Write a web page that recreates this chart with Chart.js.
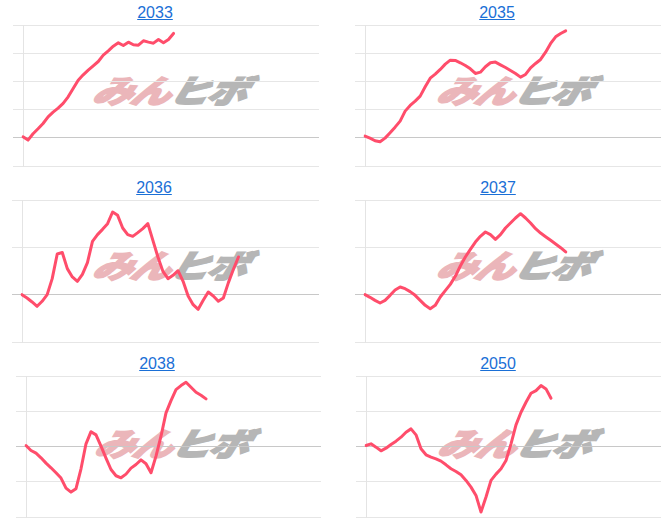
<!DOCTYPE html>
<html>
<head>
<meta charset="utf-8">
<script src="https://cdn.jsdelivr.net/npm/chart.js@4/dist/chart.umd.min.js"></script>
<style>
  html, body { margin:0; padding:0; background:#fff; }
  body { width:666px; height:522px; position:relative; overflow:hidden; font-family:"Liberation Sans", Arial, sans-serif; }
  .title { position:absolute; font-size:16px; color:#1a6fd6; text-decoration:underline; transform:translate(-50%,-50%); white-space:nowrap; }
  canvas { position:absolute; z-index:2; }
  .wm { position:absolute; z-index:1; font-family:"Noto Sans CJK JP", sans-serif; font-weight:900; font-style:italic; font-size:40px; line-height:1; white-space:nowrap; transform:translate(-50%,-50%) scaleY(0.8) skewX(-14deg); pointer-events:none; letter-spacing:-2px; }
  .wm .a { color:#ebb6ba; -webkit-text-stroke:2.2px #ebb6ba; }
  .wm .b { color:#b6b6b6; -webkit-text-stroke:2.2px #b6b6b6; }
</style>
</head>
<body>
<script>
// ---- data ----
const titles = ["2033", "2035", "2036", "2037", "2038", "2050"];
const slotLabels = ["0","1","2","3","4","5","6","7","8","9","10","11","12","13","14","15","16","17","18","19","20","21","22","23","24","25","26","27","28","29","30","31","32","33","34","35","36","37","38","39","40","41","42","43","44","45","46","47","48","49","50","51","52","53","54","55","56","57","58","59"];

const s2033 = [0.18,-0.41,0.71,1.60,2.54,3.72,4.55,5.26,6.09,7.27,8.75,10.22,11.17,12.0,12.77,13.53,14.66,15.43,16.25,16.84,16.37,16.96,16.49,16.43,17.2,16.96,16.78,17.43,16.84,17.43,18.5];
const s2035 = [0.30,-0.06,-0.53,-0.71,-0.06,0.89,1.89,2.96,4.73,5.73,6.50,7.39,9.04,10.58,11.29,12.12,13.06,13.77,13.71,13.30,12.82,12.23,11.41,11.64,12.59,13.30,13.42,12.94,12.47,11.94,11.41,10.76,11.23,12.41,13.18,13.89,15.19,16.73,17.91,18.50,18.97];
const s2036 = [0,-0.35,-0.77,-1.23,-0.70,0,1.69,4.30,4.45,2.75,1.87,1.41,2.15,3.38,5.63,6.34,6.90,7.50,8.73,8.38,7.04,6.34,6.16,6.55,6.97,7.50,5.74,3.98,2.46,1.69,2.04,2.53,1.41,-0.14,-1.06,-1.55,-0.60,0.28,-0.14,-0.70,-0.35,1.27,2.68,3.98];
const s2037 = [0,-0.28,-0.60,-0.88,-0.60,-0.07,0.49,0.81,0.63,0.32,-0.07,-0.60,-1.13,-1.48,-1.13,-0.25,0.42,1.09,1.94,3.03,3.98,4.79,5.56,6.16,6.62,6.34,5.84,6.34,7.04,7.57,8.10,8.55,8.10,7.57,6.97,6.51,6.12,5.74,5.35,4.96,4.51];
const s2038 = [0.14,-0.57,-0.94,-1.60,-2.36,-3.02,-3.73,-4.48,-5.90,-6.47,-5.99,-3.16,0.38,2.10,1.65,0.05,-1.65,-3.26,-4.15,-4.44,-3.92,-3.07,-2.55,-1.89,-2.45,-3.73,-1.37,1.46,4.77,6.51,8.07,8.64,9.11,8.40,7.69,7.27,6.75];
const s2050 = [0.14,0.38,-0.09,-0.61,-0.24,0.28,0.76,1.32,2.03,2.50,1.65,-0.33,-1.18,-1.51,-1.75,-2.08,-2.60,-3.16,-3.54,-4.01,-4.81,-5.76,-6.94,-9.30,-7.17,-4.81,-3.92,-3.16,-1.98,0.38,3.07,4.86,6.28,7.55,7.93,8.64,8.17,6.84];

const series = [s2033, s2035, s2036, s2037, s2038, s2050];
const yMins = [-5, -5, -5, -5, -10, -10];
const yMaxs = [20, 20, 10, 10, 10, 10];
const ySteps = [5, 5, 5, 5, 5, 5];

// ---- layout (pixels) ----
const panels = [
  {tx:155, ty:13,  l:22.7, r:319, t:25,  b:166},
  {tx:497, ty:13,  l:365,  r:661, t:25,  b:166},
  {tx:154, ty:188, l:21.7, r:319, t:200, b:342},
  {tx:498, ty:188, l:365,  r:661, t:200, b:342},
  {tx:157, ty:364, l:25.7, r:320.7, t:376, b:517},
  {tx:498, ty:364, l:366.3, r:661, t:376, b:517}
];
const wms = [[171,89],[515,89],[171,264],[515,264],[173,442],[516,442]];

const TICK = 10, PL = 2, PT = 4, PR = 4, PB = 4;

panels.forEach((p, i) => {
  const t = document.createElement('div');
  t.className = 'title';
  t.textContent = titles[i];
  t.style.left = p.tx + 'px';
  t.style.top = p.ty + 'px';
  document.body.appendChild(t);

  const w = document.createElement('div');
  w.className = 'wm';
  w.innerHTML = '<span class="a">みん</span><span class="b">ヒボ</span>';
  w.style.left = wms[i][0] + 'px';
  w.style.top = wms[i][1] + 'px';
  document.body.appendChild(w);

  const l = Math.round(p.l), r = Math.round(p.r);
  const cl = l - TICK - PL;
  const ct = p.t - PT;
  const cw = r - cl + PR;
  const ch = p.b - ct + PB;
  const c = document.createElement('canvas');
  c.width = cw; c.height = ch;
  c.style.left = cl + 'px'; c.style.top = ct + 'px';
  c.style.width = cw + 'px'; c.style.height = ch + 'px';
  document.body.appendChild(c);

  new Chart(c.getContext('2d'), {
    type: 'line',
    data: {
      labels: slotLabels,
      datasets: [{
        data: series[i],
        borderColor: '#ff4d6b',
        borderWidth: 3,
        pointRadius: 0,
        tension: 0,
        fill: false,
        borderJoinStyle: 'round',
        borderCapStyle: 'round'
      }]
    },
    options: {
      responsive: false,
      animation: false,
      events: [],
      layout: { padding: { left: PL, top: PT, right: PR, bottom: PB } },
      plugins: { legend: { display: false }, tooltip: { enabled: false } },
      scales: {
        x: { display: false },
        y: {
          min: yMins[i], max: yMaxs[i],
          ticks: { stepSize: ySteps[i], display: false },
          grid: {
            color: ctx => (ctx.tick && ctx.tick.value === 0) ? '#c8c8c8' : '#e6e6e6',
            tickLength: TICK, drawTicks: true
          },
          border: { display: true, color: '#e4e4e4' }
        }
      }
    }
  });
});
</script>
</body>
</html>
